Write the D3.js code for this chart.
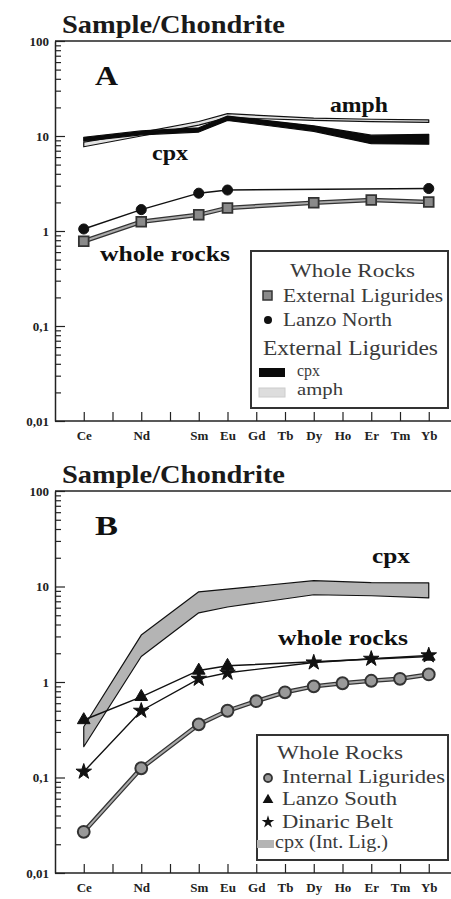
<!DOCTYPE html>
<html>
<head>
<meta charset="utf-8">
<script src="https://cdn.jsdelivr.net/npm/d3@7"></script>
<style>
  body { margin: 0; background: #fff; }
</style>
</head>
<body>
<div id="chart"></div>
<script>
// rare earth elements, La..Lu (Pr and Pm ticks carry no label)
const ree = ["La", "Ce", "Pr", "Nd", "Pm", "Sm", "Eu", "Gd", "Tb", "Dy", "Ho", "Er", "Tm", "Yb", "Lu"];
const tickRee = ["Ce", "Pr", "Nd", "Pm", "Sm", "Eu", "Gd", "Tb", "Dy", "Ho", "Er", "Tm", "Yb"];
const unlabelled = ["Pr", "Pm"];
const yMajor = [0.01, 0.1, 1, 10, 100];

// panel A
const extLigEls = ["Ce", "Nd", "Sm", "Eu", "Dy", "Er", "Yb"];
const extLigVals = [0.78, 1.25, 1.48, 1.75, 1.98, 2.12, 2.02];
const lanzoNorthEls = ["Ce", "Nd", "Sm", "Eu", "Yb"];
const lanzoNorthVals = [1.05, 1.68, 2.5, 2.7, 2.8];
const cpxAEls = ["Ce", "Nd", "Sm", "Eu", "Dy", "Er", "Yb"];
const cpxALow = [8.8, 10.3, 11.0, 14.6, 11.2, 8.3, 8.2];
const cpxAHigh = [9.7, 11.3, 12.2, 16.2, 12.8, 10.2, 10.4];
const amphAEls = ["Ce", "Nd", "Sm", "Eu", "Dy", "Er", "Yb"];
const amphALow = [7.7, 10.0, 13.0, 15.6, 14.6, 14.2, 13.9];
const amphAHigh = [8.6, 10.9, 14.2, 17.2, 15.4, 15.0, 14.8];

// panel B
const intLigEls = ["Ce", "Nd", "Sm", "Eu", "Gd", "Tb", "Dy", "Ho", "Er", "Tm", "Yb"];
const intLigVals = [0.027, 0.125, 0.36, 0.5, 0.63, 0.78, 0.9, 0.97, 1.03, 1.08, 1.2];
const lanzoSouthEls = ["Ce", "Nd", "Sm", "Eu", "Yb"];
const lanzoSouthVals = [0.4, 0.7, 1.32, 1.48, 1.85];
const dinaricEls = ["Ce", "Nd", "Sm", "Eu", "Dy", "Er", "Yb"];
const dinaricVals = [0.115, 0.5, 1.08, 1.25, 1.6, 1.75, 1.9];
const cpxBEls = ["Ce", "Nd", "Sm", "Eu", "Dy", "Er", "Yb"];
const cpxBLow = [0.21, 1.85, 5.3, 6.1, 8.2, 8.0, 7.6];
const cpxBHigh = [0.34, 3.1, 8.8, 9.4, 11.5, 11.0, 10.9];

const SERIF = "'Liberation Serif', 'Times New Roman', serif";
const width = 451, height = 899;
const svg = d3.select("#chart").append("svg")
    .attr("width", width)
    .attr("height", height)
    .style("font-family", SERIF);

const x = d3.scalePoint().domain(ree).range([55, 457.5]);

const zip = (els, vals) => els.map((el, i) => ({ el, v: vals[i] }));
const zipBand = (els, lo, hi) => els.map((el, i) => ({ el, lo: lo[i], hi: hi[i] }));

function styleAxis(a) {
    a.attr("font-family", null).attr("font-size", null);
    a.selectAll("text")
        .style("font-family", SERIF)
        .style("font-weight", "bold")
        .style("font-size", "13px")
        .attr("fill", "#222");
    a.selectAll("line").attr("stroke", "#222").attr("stroke-width", 1.2);
}

// text stretched to the width it has in the scanned figure
function txt(g, xp, yp, s, size, len, opts = {}) {
    const t = g.append("text")
        .attr("x", xp).attr("y", yp)
        .style("font-family", SERIF)
        .attr("font-size", size)
        .attr("font-weight", opts.bold ? "bold" : null)
        .attr("fill", opts.fill || "#111")
        .attr("text-anchor", opts.anchor || "start")
        .text(s);
    if (len) t.attr("textLength", len).attr("lengthAdjust", "spacingAndGlyphs");
    return t;
}

function drawPanel(top, bottom, letter) {
    const y = d3.scaleLog().domain([0.01, 100]).range([bottom, top]);
    const g = svg.append("g");

    txt(g, 62, top - 8, "Sample/Chondrite", 25, 223, { bold: true, fill: "#1a1a1a" });
    txt(g, 95, top + 44, letter, 27, 23, { bold: true });

    // top frame line
    g.append("line")
        .attr("x1", 55).attr("x2", width)
        .attr("y1", top).attr("y2", top)
        .attr("stroke", "#222").attr("stroke-width", 1.5);

    // y axis: minor ticks then major with labels
    const minor = [];
    [0.01, 0.1, 1, 10].forEach(d => { for (let k = 2; k <= 9; k++) minor.push(d * k); });
    g.append("g")
        .attr("transform", "translate(55,0)")
        .call(d3.axisLeft(y).tickValues(minor).tickSize(-6).tickSizeOuter(0).tickFormat(""))
        .call(styleAxis)
        .call(a => a.select(".domain").attr("stroke", "#222").attr("stroke-width", 1.5));
    g.append("g")
        .attr("transform", "translate(55,0)")
        .call(d3.axisLeft(y).tickValues(yMajor).tickSize(-10).tickPadding(6)
            .tickFormat(d => String(d).replace(".", ",")))
        .call(styleAxis)
        .call(a => a.select(".domain").remove());

    // x axis
    g.append("g")
        .attr("transform", `translate(0,${bottom})`)
        .call(d3.axisBottom(x).tickValues(tickRee).tickSize(-9).tickSizeOuter(0).tickPadding(10)
            .tickFormat(d => unlabelled.includes(d) ? "" : d))
        .call(styleAxis)
        .call(a => a.select(".domain").attr("stroke", "#222").attr("stroke-width", 1.5).attr("d", `M55,0H${width}`));

    return { g, y };
}

function band(p, data, fill, stroke) {
    const area = d3.area()
        .x(d => x(d.el))
        .y0(d => p.y(d.lo))
        .y1(d => p.y(d.hi));
    p.g.append("path")
        .datum(data)
        .attr("d", area)
        .attr("fill", fill)
        .attr("stroke", stroke)
        .attr("stroke-width", 1.2)
        .attr("stroke-linejoin", "round");
}

function series(p, data, opts) {
    const line = d3.line().x(d => x(d.el)).y(d => p.y(d.v));
    if (opts.double) {
        p.g.append("path").datum(data).attr("d", line)
            .attr("fill", "none").attr("stroke", "#333").attr("stroke-width", 4.5);
        p.g.append("path").datum(data).attr("d", line)
            .attr("fill", "none").attr("stroke", "#aaa").attr("stroke-width", 2);
    } else {
        p.g.append("path").datum(data).attr("d", line)
            .attr("fill", "none").attr("stroke", "#111").attr("stroke-width", 1.4);
    }
    p.g.selectAll(null).data(data).enter().append("path")
        .attr("transform", d => `translate(${x(d.el)},${p.y(d.v)})`)
        .attr("d", d3.symbol().type(opts.symbol).size(opts.size))
        .attr("fill", opts.fill)
        .attr("stroke", opts.stroke)
        .attr("stroke-width", opts.sw || 1.5);
}

function legendBox(p, x0, y0, w, h) {
    p.g.append("rect")
        .attr("x", x0).attr("y", y0).attr("width", w).attr("height", h)
        .attr("fill", "#fff").attr("stroke", "#333").attr("stroke-width", 2);
}

const LEG = { fill: "#3a3a3a" };

// ---------- panel A ----------
const pA = drawPanel(41, 421, "A");
band(pA, zipBand(amphAEls, amphALow, amphAHigh), "#e2e2e2", "#111");
band(pA, zipBand(cpxAEls, cpxALow, cpxAHigh), "#0a0a0a", "#0a0a0a");
series(pA, zip(lanzoNorthEls, lanzoNorthVals), { symbol: d3.symbolCircle, size: 80, fill: "#111", stroke: "#111", sw: 1 });
series(pA, zip(extLigEls, extLigVals), { double: true, symbol: d3.symbolSquare, size: 95, fill: "#8a8a8a", stroke: "#333", sw: 1.8 });
txt(pA.g, 330, 112, "amph", 21, 58, { bold: true });
txt(pA.g, 152, 160, "cpx", 21, 36, { bold: true });
txt(pA.g, 100, 261, "whole rocks", 21, 130, { bold: true });

legendBox(pA, 251, 251, 197, 157);
txt(pA.g, 290, 277, "Whole Rocks", 19, 125, LEG);
pA.g.append("rect").attr("x", 263).attr("y", 291).attr("width", 9).attr("height", 9)
    .attr("fill", "#8a8a8a").attr("stroke", "#333").attr("stroke-width", 1.5);
txt(pA.g, 283, 302, "External Ligurides", 18, 160, LEG);
pA.g.append("circle").attr("cx", 268).attr("cy", 320).attr("r", 4).attr("fill", "#111");
txt(pA.g, 283, 326, "Lanzo North", 18, 109, LEG);
txt(pA.g, 263, 355, "External Ligurides", 20, 175, LEG);
pA.g.append("rect").attr("x", 259).attr("y", 368).attr("width", 26).attr("height", 9).attr("fill", "#0a0a0a");
txt(pA.g, 297, 376, "cpx", 17, 23, LEG);
pA.g.append("rect").attr("x", 259).attr("y", 388).attr("width", 26).attr("height", 9)
    .attr("fill", "#ddd").attr("stroke", "#ccc");
txt(pA.g, 297, 395, "amph", 17, 46, LEG);

// ---------- panel B ----------
const pB = drawPanel(491, 873, "B");
band(pB, zipBand(cpxBEls, cpxBLow, cpxBHigh), "#b4b4b4", "#111");
series(pB, zip(intLigEls, intLigVals), { double: true, symbol: d3.symbolCircle, size: 110, fill: "#999", stroke: "#333", sw: 2 });
series(pB, zip(lanzoSouthEls, lanzoSouthVals), { symbol: d3.symbolTriangle, size: 70, fill: "#111", stroke: "#111", sw: 1 });
series(pB, zip(dinaricEls, dinaricVals), { symbol: d3.symbolStar, size: 75, fill: "#111", stroke: "#111", sw: 1 });
txt(pB.g, 372, 563, "cpx", 21, 38, { bold: true });
txt(pB.g, 278, 645, "whole rocks", 21, 130, { bold: true });

legendBox(pB, 257, 735, 191, 125);
txt(pB.g, 277, 759, "Whole Rocks", 19, 126, LEG);
pB.g.append("circle").attr("cx", 268).attr("cy", 778).attr("r", 4)
    .attr("fill", "#999").attr("stroke", "#333").attr("stroke-width", 1.8);
txt(pB.g, 282, 783, "Internal Ligurides", 18, 163, LEG);
pB.g.append("path").attr("transform", "translate(268,800)")
    .attr("d", d3.symbol().type(d3.symbolTriangle).size(50)).attr("fill", "#111");
txt(pB.g, 282, 805, "Lanzo South", 18, 115, LEG);
pB.g.append("path").attr("transform", "translate(268,822)")
    .attr("d", d3.symbol().type(d3.symbolStar).size(50)).attr("fill", "#111");
txt(pB.g, 282, 828, "Dinaric Belt", 18, 111, LEG);
pB.g.append("rect").attr("x", 257).attr("y", 840).attr("width", 17).attr("height", 8)
    .attr("fill", "#b4b4b4");
txt(pB.g, 275, 848, "cpx (Int. Lig.)", 18, 113, LEG);
</script>
</body>
</html>
